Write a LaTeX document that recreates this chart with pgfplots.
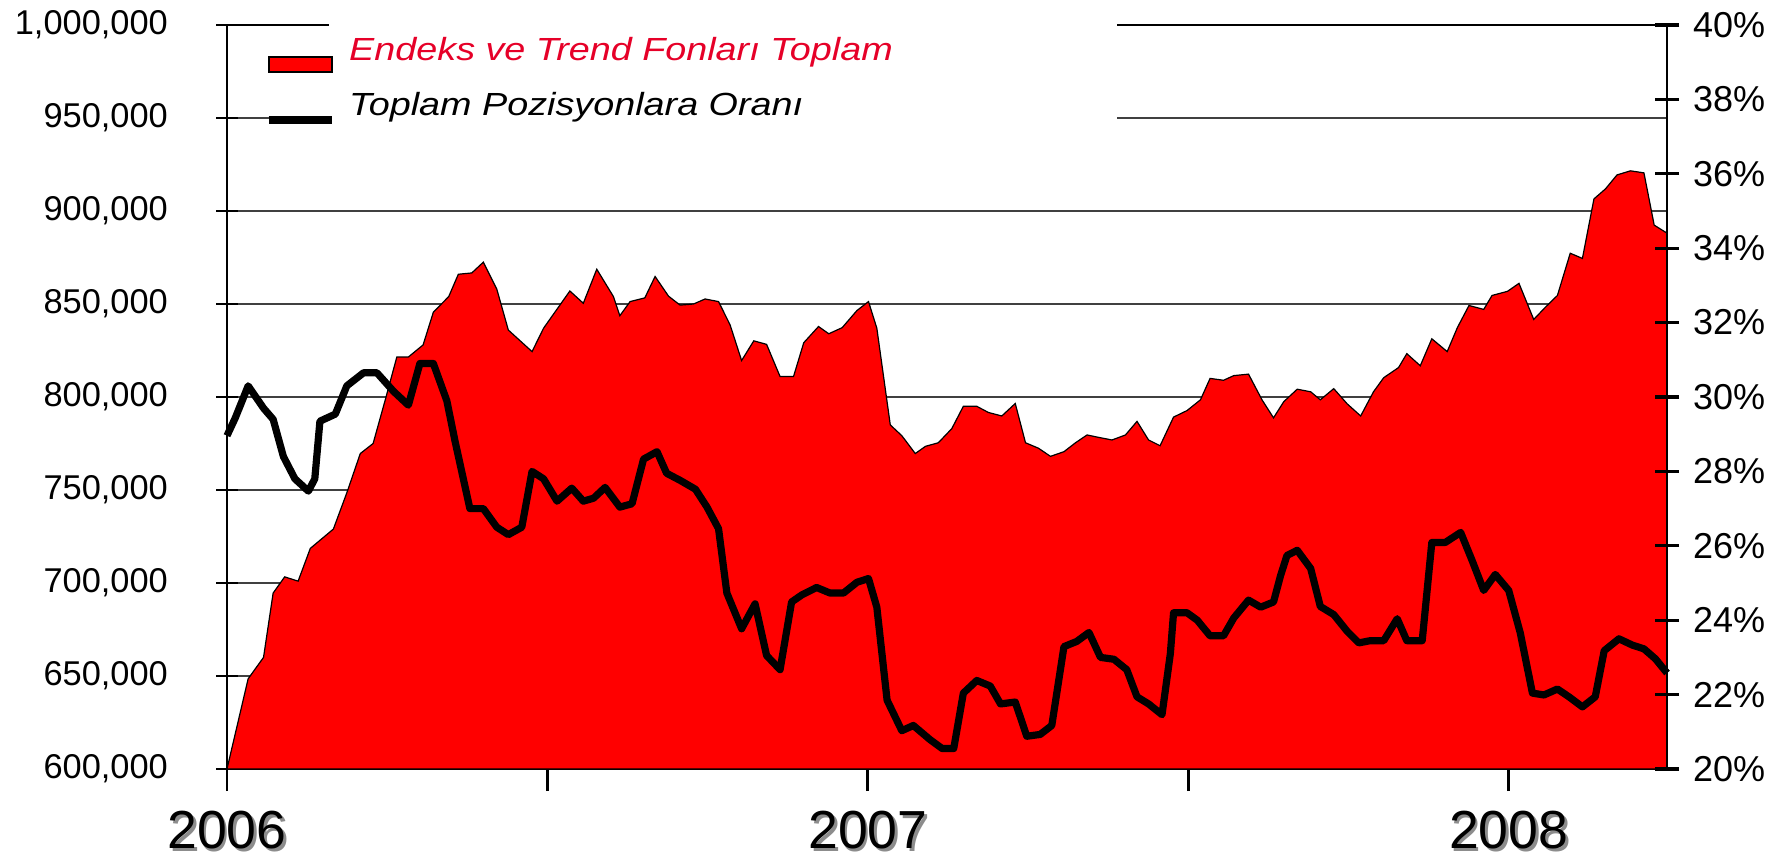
\documentclass[border=0pt]{standalone}
\usepackage{pgfplots}
\pgfplotsset{compat=1.18}
\usepackage{fontspec}
\setmainfont{Liberation Sans}
\usepackage{graphicx}
\definecolor{legred}{RGB}{230,0,40}
\newcommand\shadowtext[1]{\makebox[0pt][l]{\kern0.7pt\raisebox{-0.6pt}{\textcolor{black!45}{#1}}}#1}

\pgfplotstableread{
x v
2006.000 600
2006.033 648.5
2006.057 660
2006.072 694.6
2006.090 703.3
2006.111 701
2006.130 718.6
2006.166 729
2006.187 748.5
2006.208 769.6
2006.228 775
2006.247 798.5
2006.265 821.5
2006.283 821.5
2006.306 828
2006.322 845.6
2006.346 854
2006.361 866
2006.382 866.7
2006.400 872.5
2006.421 858
2006.439 836
2006.476 824.4
2006.494 837
2006.535 857
2006.556 850.4
2006.577 868.7
2006.603 854
2006.613 843.7
2006.629 851.3
2006.652 853.3
2006.668 864.8
2006.689 854.2
2006.707 849.4
2006.728 850
2006.746 852.7
2006.767 851.3
2006.785 838.8
2006.803 819.6
2006.822 830.2
2006.842 828.3
2006.863 811
2006.884 811
2006.900 829.2
2006.923 837.9
2006.939 834
2006.960 837.3
2006.983 846.5
2007.001 851.3
2007.014 837
2007.035 785
2007.053 779.2
2007.074 769.6
2007.090 773.5
2007.110 775.4
2007.131 783
2007.149 795
2007.170 795
2007.188 791.7
2007.209 789.8
2007.230 796.5
2007.246 775.4
2007.266 772.5
2007.285 768.1
2007.306 770.6
2007.324 775.4
2007.342 779.6
2007.360 778.3
2007.381 776.9
2007.402 779.6
2007.420 786.9
2007.438 776.9
2007.456 773.8
2007.477 789.2
2007.498 792.7
2007.519 798.5
2007.534 810
2007.555 809
2007.571 811.5
2007.594 812.3
2007.615 798.5
2007.633 788.8
2007.649 797.5
2007.670 804.2
2007.691 802.8
2007.706 798.5
2007.727 804.5
2007.748 796.3
2007.769 789.8
2007.789 802.8
2007.805 810.4
2007.828 815.8
2007.841 823.3
2007.862 816.8
2007.880 831.3
2007.904 824.4
2007.920 837.4
2007.938 849.2
2007.961 847.1
2007.974 854.6
2007.998 856.8
2008.016 861.1
2008.039 841.7
2008.057 848.2
2008.076 854.6
2008.096 877.3
2008.115 874.5
2008.133 906.5
2008.151 911.9
2008.169 919.4
2008.190 921.6
2008.211 920.5
2008.227 892.4
2008.247 888.1
}\fundtable

\pgfplotstableread{
x p
2006.000 28.96
2006.013 29.44
2006.033 30.3
2006.057 29.7
2006.072 29.4
2006.088 28.4
2006.106 27.8
2006.127 27.47
2006.137 27.8
2006.145 29.35
2006.169 29.54
2006.187 30.3
2006.213 30.65
2006.234 30.65
2006.260 30.15
2006.283 29.78
2006.301 30.9
2006.322 30.9
2006.343 29.9
2006.356 28.8
2006.379 27.0
2006.400 27.0
2006.421 26.5
2006.439 26.3
2006.460 26.5
2006.476 28.0
2006.494 27.8
2006.515 27.2
2006.538 27.55
2006.556 27.2
2006.572 27.28
2006.590 27.57
2006.613 27.04
2006.632 27.13
2006.650 28.33
2006.671 28.53
2006.686 27.95
2006.707 27.76
2006.731 27.52
2006.749 27.04
2006.767 26.46
2006.780 24.73
2006.803 23.77
2006.824 24.44
2006.842 23.05
2006.863 22.67
2006.881 24.49
2006.897 24.68
2006.920 24.88
2006.941 24.73
2006.962 24.73
2006.983 25.02
2007.001 25.12
2007.014 24.35
2007.030 21.85
2007.053 21.03
2007.071 21.17
2007.097 20.79
2007.116 20.55
2007.134 20.55
2007.149 22.04
2007.170 22.38
2007.191 22.23
2007.207 21.75
2007.230 21.8
2007.248 20.88
2007.269 20.93
2007.287 21.17
2007.306 23.29
2007.326 23.43
2007.345 23.67
2007.363 23.0
2007.384 22.95
2007.404 22.67
2007.420 21.94
2007.438 21.75
2007.459 21.46
2007.472 23.1
2007.477 24.2
2007.498 24.2
2007.514 24.0
2007.534 23.58
2007.555 23.58
2007.571 24.06
2007.594 24.54
2007.613 24.35
2007.633 24.49
2007.644 25.2
2007.654 25.74
2007.670 25.88
2007.691 25.39
2007.706 24.37
2007.727 24.15
2007.748 23.7
2007.766 23.39
2007.784 23.45
2007.805 23.45
2007.826 24.04
2007.841 23.45
2007.865 23.45
2007.880 26.09
2007.901 26.09
2007.925 26.36
2007.943 25.6
2007.961 24.8
2007.979 25.23
2008.000 24.8
2008.018 23.66
2008.037 22.04
2008.055 21.99
2008.076 22.15
2008.094 21.94
2008.115 21.67
2008.135 21.94
2008.149 23.18
2008.172 23.5
2008.193 23.33
2008.211 23.23
2008.229 22.96
2008.247 22.58
}\ratiotable

\begin{document}
\begin{tikzpicture}
\begin{axis}[
  name=ax,
  scale only axis, width=360pt, height=186pt,
  xmin=2006, xmax=2008.247,
  ymin=600, ymax=1000,
  axis line style={black, line width=0.6pt},
  xtick={2006,2006.5,2007,2007.5,2008},
  xticklabels={\shadowtext{2006},,\shadowtext{2007},,\shadowtext{2008}},
  xtick pos=bottom, xtick align=outside,
  ytick={600,650,700,750,800,850,900,950,1000},
  yticklabels={600{,}000,650{,}000,700{,}000,750{,}000,800{,}000,850{,}000,900{,}000,950{,}000,1{,}000{,}000},
  ytick pos=left, ytick align=center,
  major tick length=5.5pt,
  tick style={black, line width=0.7pt},
  ymajorgrids, grid style={black!75, line width=0.5pt},
  yticklabel style={font=\fontsize{8.6}{10}\selectfont, xshift=-8.5pt},
  xticklabel style={font=\fontsize{13.4}{15}\selectfont, inner sep=0pt, yshift=-4.85pt},
]
\addplot[fill=red, draw=black, line width=0.3pt] table[x=x, y=v] {\fundtable} \closedcycle;
\end{axis}
\begin{axis}[
  scale only axis, width=360pt, height=186pt,
  xmin=2006, xmax=2008.247,
  ymin=20, ymax=40,
  axis x line=none,
  axis y line*=right,
  axis line style={-, black, line width=0.6pt},
  ytick={20,22,24,26,28,30,32,34,36,38,40},
  yticklabel={\pgfmathprintnumber{\tick}\%},
  ytick align=center, major tick length=6pt,
  tick style={black, line width=0.8pt},
  yticklabel style={font=\fontsize{9}{10}\selectfont},
  /pgf/number format/assume math mode=true,
  clip=false,
  legend style={at={(axis description cs:0.0264,0.984)}, anchor=north west,
    draw=none, fill=none, inner sep=0pt, outer sep=0pt,
    column sep=3.5pt, row sep=4.5pt,
    nodes={inner sep=0pt, text height=6pt, text depth=2pt, font=\fontsize{8}{9}\selectfont\itshape}},
  legend cell align=left,
]
\fill[white] (axis description cs:0.0708,0.853) rectangle (axis description cs:0.618,1.011);
\addlegendimage{legend image code/.code={\draw[fill=red, draw=black, line width=0.5pt] (0pt,-4.8pt) rectangle (15.75pt,-1pt);}}
\addlegendentry{\scalebox{1.18}[1]{\textcolor{legred}{Endeks ve Trend Fonları Toplam}}}
\addplot[black, line width=1.8pt, line join=round,
  legend image code/.code={\draw[black, line width=1.8pt] (0pt,-3.2pt) -- (15.75pt,-3.2pt);}]
  table[x=x, y=p] {\ratiotable};
\addlegendentry{\scalebox{1.18}[1]{Toplam Pozisyonlara Oranı}}
\end{axis}
\pgfresetboundingbox
\path[use as bounding box] ([shift={(-56.75pt,-22.25pt)}]ax.south west) rectangle ([shift={(27.75pt,6.25pt)}]ax.north east);
\end{tikzpicture}
\end{document}
